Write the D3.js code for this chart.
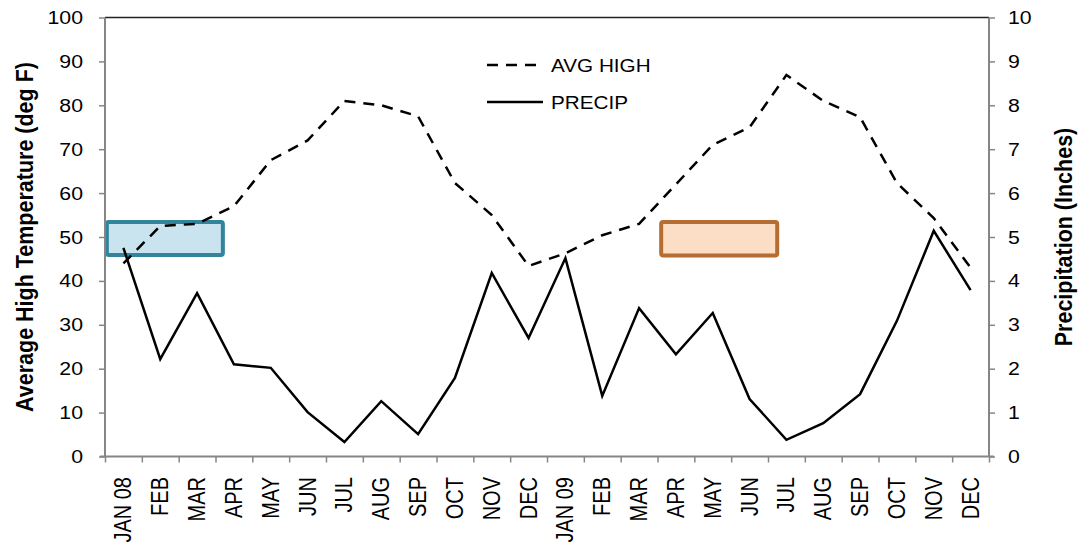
<!DOCTYPE html>
<html><head><meta charset="utf-8">
<script src="https://cdn.jsdelivr.net/npm/d3@7/dist/d3.min.js"></script>
<style>
html,body{margin:0;padding:0;background:#fff;}
svg{display:block;font-family:"Liberation Sans",Arial,sans-serif;}
</style></head>
<body>
<svg id="chart" width="1080" height="548"></svg>
<script>
const months = ["JAN 08","FEB","MAR","APR","MAY","JUN","JUL","AUG","SEP","OCT","NOV","DEC",
                "JAN 09","FEB","MAR","APR","MAY","JUN","JUL","AUG","SEP","OCT","NOV","DEC"];
const avgHigh = [44,52.5,53,57,67.5,72,81,80,77.5,62.3,55,43.4,
                 46.3,50.4,53,62,71,75,86.9,81,77.3,62.3,54.3,43];
const precip = [4.75,2.22,3.72,2.1,2.02,1.01,0.33,1.26,0.51,1.79,4.18,2.7,
                4.52,1.38,3.38,2.33,3.27,1.31,0.38,0.76,1.42,3.09,5.14,3.79];
const tempTicks = [0,10,20,30,40,50,60,70,80,90,100];
const precipTicks = [0,1,2,3,4,5,6,7,8,9,10];
const seriesNames = ["AVG HIGH","PRECIP"];
const leftTitle = "Average High Temperature (deg F)";
const rightTitle = "Precipitation (Inches)";
// highlight boxes in category units (x) and temperature units (y)
const boxes = [
  {from:0.05, to:3.2, lo:45.9, hi:53.4, fill:"#c9e4ee", stroke:"#31849b"},
  {from:15.1, to:18.25, lo:45.8, hi:53.4, fill:"#fbdec5", stroke:"#b66d31"}
];

const SX = 1.12; // horizontal glyph stretch seen in the reference
const svg = d3.select("#chart");
const L = 105, R = 989, T = 17.5, B = 456.5;
const idx = d3.range(months.length);
const xBand = d3.scaleBand().domain(idx).range([L, R]).padding(0);
const xc = i => xBand(i) + xBand.bandwidth()/2;
const xLin = d3.scaleLinear().domain([0, months.length]).range([L, R]);
const yT = d3.scaleLinear().domain([0,100]).range([B, T]);
const yP = d3.scaleLinear().domain([0,10]).range([B, T]);

// top border
svg.append("line").attr("x1",L).attr("x2",R).attr("y1",T).attr("y2",T)
  .attr("stroke","#222").attr("stroke-width",1.5);

// boxes
boxes.forEach(b => {
  svg.append("rect")
    .attr("x", xLin(b.from)).attr("y", yT(b.hi))
    .attr("width", xLin(b.to)-xLin(b.from)).attr("height", yT(b.lo)-yT(b.hi))
    .attr("rx",2).attr("fill", b.fill).attr("stroke", b.stroke).attr("stroke-width",4);
});

// left axis
const gl = svg.append("g").attr("transform",`translate(${L},0)`)
  .call(d3.axisLeft(yT).tickValues(tempTicks).tickSize(6).tickPadding(16).tickFormat(d3.format("d")));
// right axis
const gr = svg.append("g").attr("transform",`translate(${R},0)`)
  .call(d3.axisRight(yP).tickValues(precipTicks).tickSize(6).tickPadding(13).tickFormat(d3.format("d")));
// bottom axis
const gb = svg.append("g").attr("transform",`translate(0,${B})`)
  .call(d3.axisBottom(xLin).tickValues(d3.range(0, months.length+1)).tickSize(6).tickFormat(""));
[gl,gr,gb].forEach(g => {
  g.select(".domain").attr("stroke","#868686").attr("stroke-width",2);
  g.selectAll(".tick line").attr("stroke","#868686").attr("stroke-width",1.5);
});
[gl,gr].forEach(g => {
  g.selectAll(".tick text").each(function(){
    const t = d3.select(this);
    const x = +t.attr("x");
    t.attr("x",0).attr("transform",`translate(${x},0) scale(${SX},1)`)
     .attr("font-size",19).attr("fill","#000")
     .attr("font-family","'Liberation Sans',Arial,sans-serif");
  });
});
gl.select(".domain").attr("d",`M0,${B}V${T}`);
gr.select(".domain").attr("d",`M0,${B}V${T}`);
gb.select(".domain").attr("d",`M${L-5},0H${R+5}`);

// x labels
svg.append("g").selectAll("text").data(idx).join("text")
  .attr("transform", i => `translate(${xc(i)+8},477) scale(1.15,1) rotate(-90)`)
  .attr("text-anchor","end").attr("font-size",20).attr("fill","#000")
  .text(i => months[i]);

// lines
const lineT = d3.line().x((d,i)=>xc(i)).y(d=>yT(d));
const lineP = d3.line().x((d,i)=>xc(i)).y(d=>yP(d));
svg.append("path").datum(avgHigh).attr("d",lineT).attr("fill","none")
  .attr("stroke","#000").attr("stroke-width",2.5).attr("stroke-dasharray","11,8");
svg.append("path").datum(precip).attr("d",lineP).attr("fill","none")
  .attr("stroke","#000").attr("stroke-width",2.5);

// legend
const leg = svg.append("g");
[0,1].forEach(k => {
  const y = 65 + k*37;
  leg.append("line").attr("x1",487).attr("x2",543).attr("y1",y).attr("y2",y)
    .attr("stroke","#000").attr("stroke-width",2.5)
    .attr("stroke-dasharray", k===0 ? "11,8" : null);
  leg.append("text").attr("transform",`translate(551,${y+7}) scale(1.09,1)`)
    .attr("font-size",19).attr("fill","#000").text(seriesNames[k]);
});

// axis titles
svg.append("text").attr("transform",`translate(33,${(T+B)/2}) scale(1.12,1) rotate(-90)`)
  .attr("text-anchor","middle").attr("font-size",21.5).attr("font-weight","bold").text(leftTitle);
svg.append("text").attr("transform",`translate(1072,${(T+B)/2}) scale(1.12,1) rotate(-90)`)
  .attr("text-anchor","middle").attr("font-size",21.5).attr("font-weight","bold").text(rightTitle);
</script>
</body></html>
